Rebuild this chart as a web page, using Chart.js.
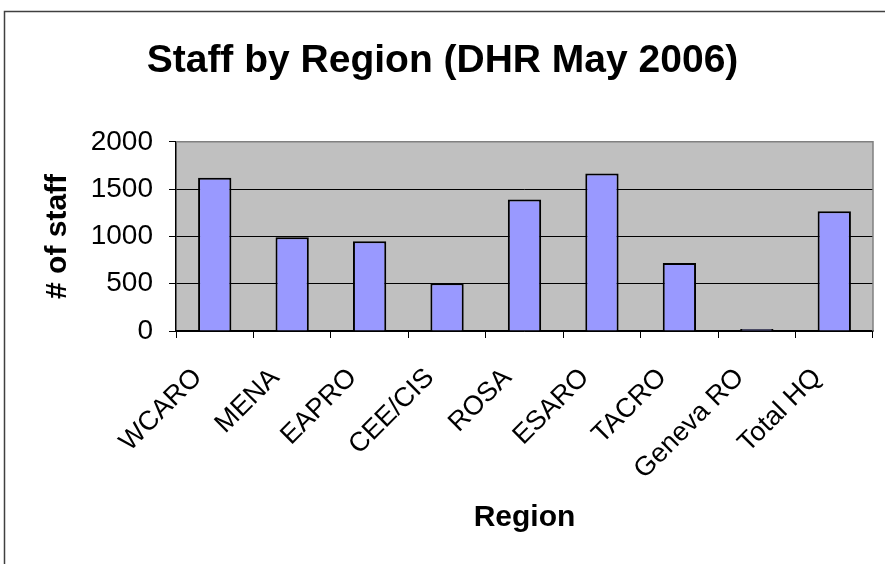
<!DOCTYPE html>
<html>
<head>
<meta charset="utf-8">
<script src="https://cdn.jsdelivr.net/npm/chart.js@4"></script>
<style>
html,body{margin:0;padding:0;background:#fff;}
#wrap{width:885px;height:564px;position:relative;}
</style>
</head>
<body>
<div id="wrap"><canvas id="c" width="885" height="564"></canvas></div>
<script>
const categories = ["WCARO","MENA","EAPRO","CEE/CIS","ROSA","ESARO","TACRO","Geneva RO","Total HQ"];
const staff = [1620, 990, 950, 505, 1390, 1665, 718, 20, 1267];
const yTicks = [0, 500, 1000, 1500, 2000];
const titleText = "Staff by Region (DHR May 2006)";
const xTitle = "Region";
const yTitle = "# of staff";

const FONT = "'Liberation Sans', Arial, sans-serif";

const framePlugin = {
  id: 'frame',
  beforeDraw(chart) {
    const {ctx, chartArea: a} = chart;
    ctx.save();
    ctx.fillStyle = '#fff';
    ctx.fillRect(0, 0, chart.width, chart.height);
    ctx.strokeStyle = '#404040';
    ctx.lineWidth = 1.5;
    ctx.beginPath();
    ctx.moveTo(4.5, chart.height);
    ctx.lineTo(4.5, 11.5);
    ctx.lineTo(chart.width, 11.5);
    ctx.stroke();
    ctx.fillStyle = '#C0C0C0';
    ctx.fillRect(a.left, a.top, a.right - a.left, a.bottom - a.top);
    ctx.restore();
  },
  afterDraw(chart) {
    const {ctx, chartArea: a} = chart;
    ctx.save();
    ctx.strokeStyle = '#808080';
    ctx.lineWidth = 1.5;
    ctx.beginPath();
    ctx.moveTo(a.left, a.top);
    ctx.lineTo(a.right, a.top);
    ctx.lineTo(a.right, a.bottom);
    ctx.stroke();
    ctx.restore();
  }
};

new Chart(document.getElementById('c'), {
  type: 'bar',
  data: {
    labels: categories,
    datasets: [{
      data: staff,
      backgroundColor: '#9999FF',
      borderColor: '#000',
      borderWidth: 2,
      barPercentage: 0.43,
      categoryPercentage: 1.0,
      yAxisID: 'y'
    }]
  },
  options: {
    responsive: false,
    animation: false,
    devicePixelRatio: 1,
    layout: { padding: { left: 0, right: 0, top: 0, bottom: 0 } },
    plugins: {
      legend: { display: false },
      tooltip: { enabled: false },
      title: {
        display: true,
        text: titleText,
        color: '#000',
        font: { family: FONT, size: 39, weight: 'bold' },
        padding: { top: 38, bottom: 57 }
      }
    },
    scales: {
      x: {
        grid: { display: true, drawOnChartArea: false, drawTicks: true, tickLength: 7, color: '#000', lineWidth: 1 },
        border: { display: true, color: '#000', width: 1.5 },
        ticks: {
          color: '#000',
          font: { family: FONT, size: 27 },
          minRotation: 45, maxRotation: 45,
          padding: 24,
          labelOffset: -17,
          autoSkip: false
        },
        title: {
          display: true, text: xTitle, color: '#000',
          font: { family: FONT, size: 30, weight: 'bold' },
          padding: { top: 0, bottom: 28 }
        },
        afterFit(scale) { scale.height = 233; }
      },
      y: {
        min: 0, max: 2000,
        afterBuildTicks(scale) { scale.ticks = yTicks.map(v => ({ value: v })); },
        grid: { color: '#000', lineWidth: 1, drawTicks: true, tickLength: 7 },
        border: { display: true, color: '#000', width: 1.5 },
        ticks: {
          color: '#000',
          font: { family: FONT, size: 28 },
          padding: 16,
          callback: (v) => String(v)
        },
        title: {
          display: true, text: yTitle, color: '#000',
          font: { family: FONT, size: 30, weight: 'bold' },
          padding: { top: 40, bottom: 0 }
        },
        afterFit(scale) { scale.width = 176; }
      },
      spacer: {
        type: 'linear',
        position: 'right',
        display: true,
        grid: { display: false, drawTicks: false },
        border: { display: false },
        ticks: { display: false },
        title: { display: false },
        afterFit(scale) { scale.width = 12; }
      }
    }
  },
  plugins: [framePlugin]
});
</script>
</body>
</html>
